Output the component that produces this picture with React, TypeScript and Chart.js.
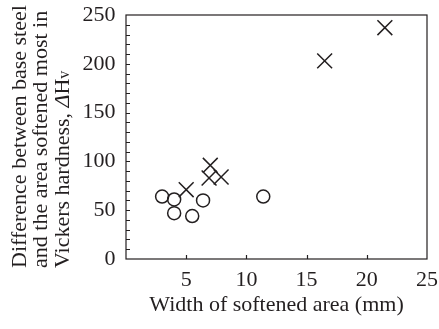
import React, { useEffect, useRef } from "react";
import { Chart, registerables } from "chart.js";

Chart.register(...registerables);

const circleX = [3.0, 4.0, 4.0, 5.5, 6.4, 11.4];
const circleY = [64, 61, 47, 44, 60, 64];
const crossX = [5.0, 7.0, 6.9, 7.9, 16.5, 21.5];
const crossY = [71, 96, 83, 84, 203, 237];

const xTickValues = [5, 10, 15, 20];
const yMinorStep = 10;
const xTitle = "Width of softened area (mm)";
// each title line is a list of [text, style] runs: n = normal, i = italic, s = small
const yTitle: [string, string][][] = [
  [["Difference between base steel", "n"]],
  [["and the area softened most in", "n"]],
  [["Vickers hardness, ", "n"], ["\u0394", "i"], ["H", "n"], ["v", "s"]],
];

const FONT = "'Liberation Serif', 'Times New Roman', serif";
const INK = "#231f20";

const runFont = (style: string) =>
  style === "i" ? "italic 22px " + FONT : style === "s" ? "16px " + FONT : "22px " + FONT;

const frameAndTicks = {
  id: "frameAndTicks",
  afterDatasetsDraw(chart: any) {
    const { ctx, chartArea } = chart;
    const xs = chart.scales.x;
    const ys = chart.scales.y;
    ctx.save();
    ctx.strokeStyle = INK;
    ctx.lineWidth = 1.2;
    ctx.strokeRect(
      chartArea.left,
      chartArea.top,
      chartArea.right - chartArea.left,
      chartArea.bottom - chartArea.top
    );
    ctx.beginPath();
    for (const v of xTickValues) {
      const px = Math.round(xs.getPixelForValue(v)) + 0.5;
      ctx.moveTo(px, chartArea.bottom);
      ctx.lineTo(px, chartArea.bottom - 4);
    }
    for (let v = ys.min + yMinorStep; v < ys.max; v += yMinorStep) {
      const py = Math.round(ys.getPixelForValue(v)) + 0.5;
      ctx.moveTo(chartArea.left, py);
      ctx.lineTo(chartArea.left + 4, py);
    }
    ctx.stroke();

    // y-axis title (three left-aligned rotated lines)
    ctx.fillStyle = INK;
    ctx.textAlign = "left";
    ctx.textBaseline = "alphabetic";
    yTitle.forEach((runs, i) => {
      ctx.save();
      ctx.translate(ys.left + 18.5 + i * 21.5, chartArea.bottom + 9);
      ctx.rotate(-Math.PI / 2);
      let x = 0;
      for (const [text, style] of runs) {
        ctx.font = runFont(style);
        ctx.fillText(text, x, 7.4);
        x += ctx.measureText(text).width;
      }
      ctx.restore();
    });
    ctx.restore();
  },
};

export default function App() {
  const ref = useRef<HTMLCanvasElement | null>(null);
  useEffect(() => {
    if (!ref.current) return;
    const chart = new Chart(ref.current, {
      type: "scatter",
      data: {
        datasets: [
          {
            label: "circle",
            data: circleX.map((x, i) => ({ x, y: circleY[i] })),
            pointStyle: "circle",
            pointRadius: 6.5,
            pointBorderWidth: 1.5,
            pointBorderColor: INK,
            pointBackgroundColor: "rgba(0,0,0,0)",
          },
          {
            label: "cross",
            data: crossX.map((x, i) => ({ x, y: crossY[i] })),
            pointStyle: "crossRot",
            pointRadius: 10.5,
            pointBorderWidth: 1.5,
            pointBorderColor: INK,
            pointBackgroundColor: "rgba(0,0,0,0)",
          },
        ],
      },
      options: {
        responsive: false,
        animation: false,
        layout: { padding: 0 },
        plugins: { legend: { display: false }, tooltip: { enabled: false } },
        scales: {
          x: {
            type: "linear",
            min: 0,
            max: 25,
            grid: { display: false, drawTicks: false },
            border: { display: false },
            ticks: {
              stepSize: 5,
              padding: 10.6,
              color: INK,
              font: { family: FONT, size: 22, lineHeight: 1.0 },
              callback: (v: any) => (v === 0 ? "" : String(v)),
            },
            title: {
              display: true,
              text: xTitle,
              color: INK,
              font: { family: FONT, size: 22, lineHeight: 1.0 },
              padding: { top: 0, bottom: 12.7 },
            },
            afterFit: (s: any) => {
              s.height = 70;
              s.paddingLeft = 0;
              s.paddingRight = 9;
            },
          },
          y: {
            type: "linear",
            min: 0,
            max: 250,
            grid: { display: false, drawTicks: false },
            border: { display: false },
            ticks: {
              stepSize: 50,
              padding: 10.5,
              color: INK,
              font: { family: FONT, size: 22, lineHeight: 1.0 },
            },
            title: { display: false },
            afterFit: (s: any) => {
              s.width = 126;
              s.paddingTop = 15;
              s.paddingBottom = 0;
            },
          },
        },
      },
      plugins: [frameAndTicks],
    } as any);
    return () => chart.destroy();
  }, []);
  return (
    <div style={{ position: "fixed", left: 0, top: 0, width: 439, height: 329, background: "#fff" }}>
      <canvas ref={ref} width={439} height={329} style={{ display: "block" }} />
    </div>
  );
}
